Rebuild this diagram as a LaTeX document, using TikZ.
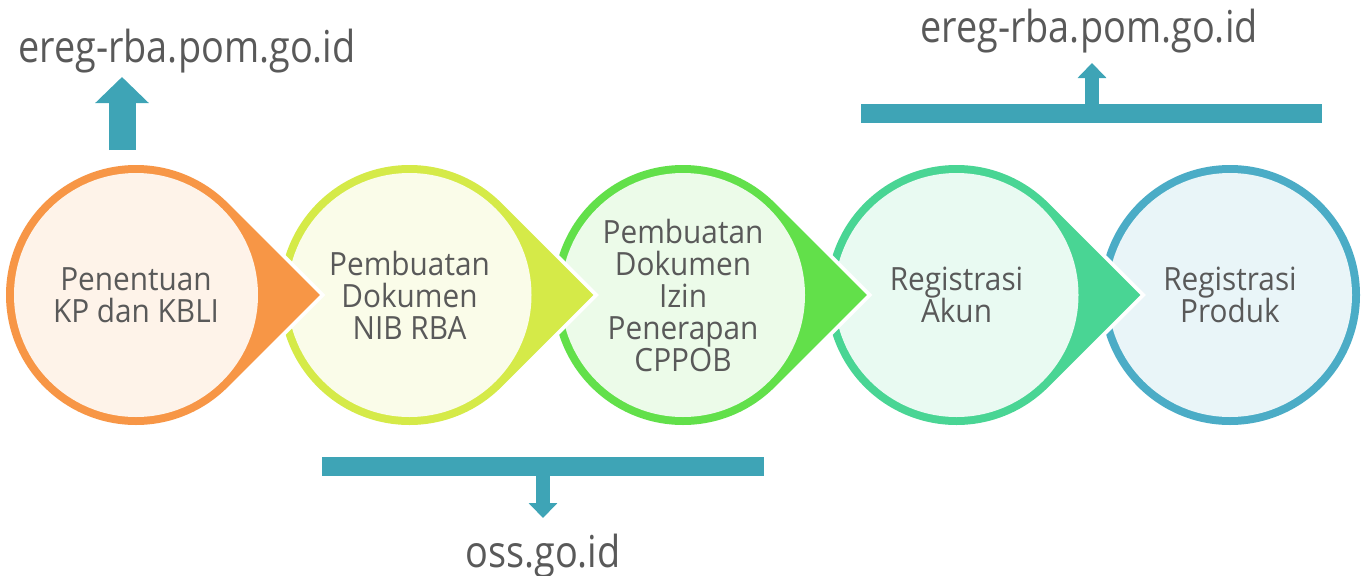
\documentclass[tikz,border=0pt]{standalone}
\usepackage{fontspec}
\setmainfont{Open Sans}
\newfontfamily\stepfont{Open Sans}[FakeStretch=0.93]
\newfontfamily\sitefont{Open Sans}[FakeStretch=0.86]
\usetikzlibrary{arrows.meta}

\definecolor{textgray}{RGB}{89,89,89}
\definecolor{linkblue}{RGB}{62,164,182}
\definecolor{kporange}{RGB}{247,150,70}
\definecolor{nibyellow}{RGB}{213,234,72}
\definecolor{izingreen}{RGB}{98,224,74}
\definecolor{akunteal}{RGB}{73,213,148}
\definecolor{produkblue}{RGB}{75,172,198}

\begin{document}
\begin{tikzpicture}[x=0.75pt, y=-0.75pt,
  steptext/.style={align=center, text=textgray, font=\stepfont\fontsize{24}{24}\selectfont},
  sitelabel/.style={anchor=base, text=textgray, font=\sitefont\fontsize{33}{33}\selectfont},
  linkbar/.style={linkblue, line width=14.25pt},
  linkarrow/.style={linkblue, line width=10.5pt, -{Triangle[width=21pt, length=11.25pt]}},
  bigarrow/.style={linkblue, line width=20.25pt, -{Triangle[width=39pt, length=19.5pt]}}]

\useasboundingbox (0,0) rectangle (1364,575);

% last step, no tip
\fill[produkblue] (1230,295) circle (130);
\fill[produkblue!12] (1230,295) circle (122);
\node[steptext] (s5) at (1230,295) {Registrasi\\Produk};

% right to left, so every tip lies over the next circle
\foreach \i/\cx/\rim/\txt in {4/956.5/akunteal/{Registrasi\\Akun},
    3/683/izingreen/{Pembuatan\\Dokumen\\Izin\\Penerapan\\CPPOB},
    2/409.5/nibyellow/{Pembuatan\\Dokumen\\NIB RBA},
    1/136/kporange/{Penentuan\\KP dan KBLI}} {
    \fill[\rim, preaction={draw=white, line width=6pt}] (\cx,295) ++(45:130)
        arc[start angle=45, end angle=315, radius=130] -- (\cx+183.8,295) -- cycle;
    \fill[\rim!12] (\cx,295) circle (122);
    \node[steptext] (s\i) at (\cx,295) {\txt};
}

% ereg-rba.pom.go.id (left)
\node[sitelabel] (eregl) at (187,62) {ereg-rba.pom.go.id};
\coordinate (kpfoot) at (122,150);
\coordinate (kptip) at (122,77);
\draw[bigarrow] (kpfoot) -- (kptip);

% oss.go.id
\node[sitelabel] (oss) at (543,567) {oss.go.id};
\coordinate (ossl) at (322,466.5);
\coordinate (ossr) at (764,466.5);
\coordinate (ossmid) at (543,466.5);
\coordinate (osstip) at (543,518);
\draw[linkbar] (ossl) -- (ossr);
\draw[linkarrow] (ossmid) -- (osstip);

% ereg-rba.pom.go.id (right)
\node[sitelabel] (eregr) at (1089,42) {ereg-rba.pom.go.id};
\coordinate (eregbl) at (861,113);
\coordinate (eregbr) at (1322,113);
\coordinate (eregmid) at (1092,113);
\coordinate (eregtip) at (1092,63);
\draw[linkbar] (eregbl) -- (eregbr);
\draw[linkarrow] (eregmid) -- (eregtip);
\end{tikzpicture}
\end{document}
